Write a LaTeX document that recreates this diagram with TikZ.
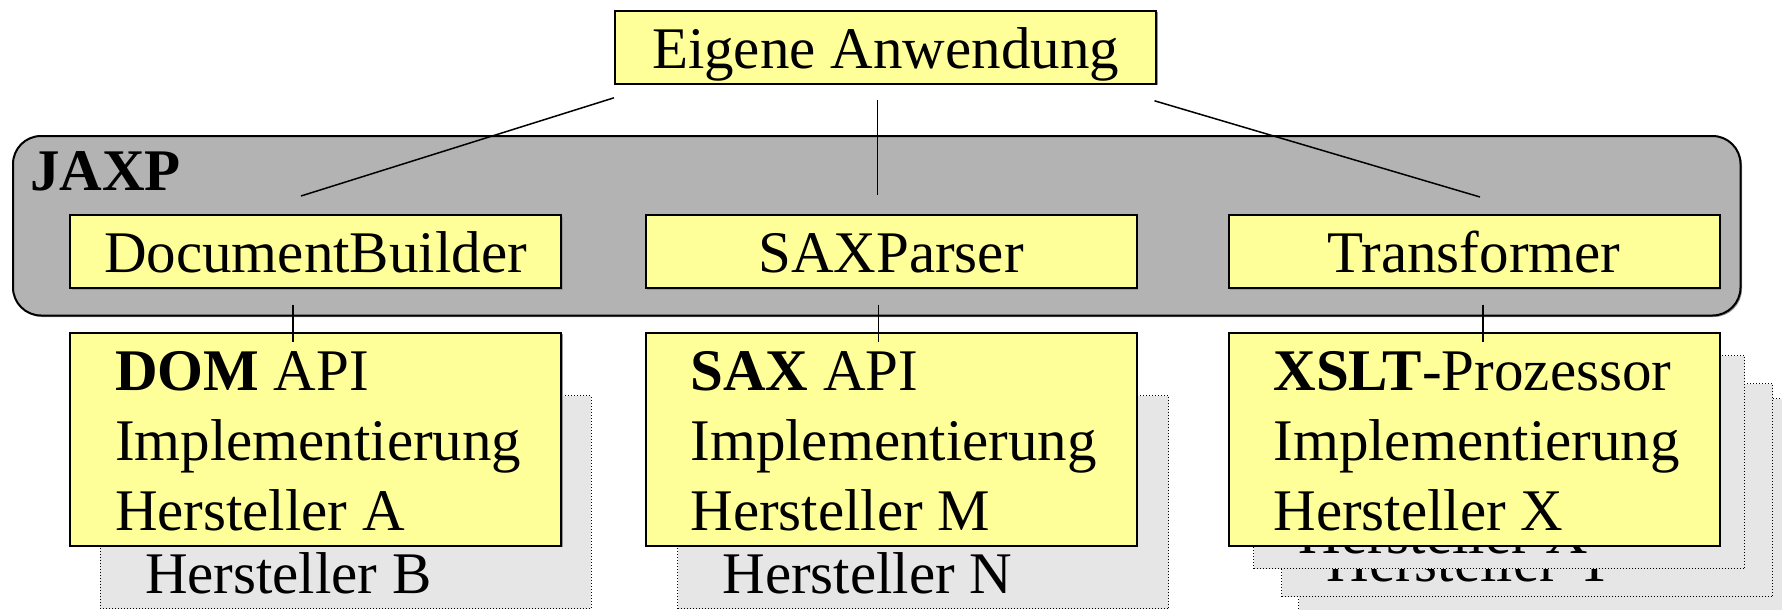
\documentclass[tikz,border=0pt]{standalone}
\usepackage{fontspec}
\setmainfont{Liberation Serif}
\usepackage{tikz}
\usetikzlibrary{calc, backgrounds, shadows}
\definecolor{boxyellow}{RGB}{255,255,153}
\definecolor{jaxpgray}{RGB}{179,179,179}
\definecolor{shadowgray}{RGB}{230,230,230}
\definecolor{edgegray}{RGB}{150,150,150}
\tikzstyle{edge shadow} = [drop shadow={shadow xshift=1.5pt, shadow yshift=-1.5pt, fill=edgegray, opacity=1}]
\tikzstyle{api} = [rectangle, draw, line width=2pt, fill=boxyellow, edge shadow,
    text centered, inner sep=0pt, minimum width=491pt, text height=57.5pt, text depth=15.5pt]
\tikzstyle{impl} = [rectangle, draw, line width=2pt, fill=boxyellow, edge shadow, align=flush left,
    inner xsep=45pt, inner ysep=0pt, text width=401pt, text height=57.5pt, text depth=155.5pt]
\tikzstyle{implshadow} = [rectangle, draw, line width=1pt, dotted, fill=shadowgray, align=flush left,
    inner xsep=45pt, inner ysep=0pt, text width=401pt, text height=57.5pt, text depth=155.5pt]
\tikzstyle{container} = [draw, line width=2pt, fill=jaxpgray, rounded corners=28pt, edge shadow]
\tikzstyle{line} = [draw, line width=1.5pt]

\begin{document}
\begin{tikzpicture}[x=1pt, y=-1pt, node distance=187.75pt, font=\fontsize{59}{70}\selectfont]
    \useasboundingbox (0,0) rectangle (1782,610);
    % Nodes
    \node [api, minimum width=541pt] (app) at (885.5,47.3) {Eigene Anwendung};
    \node [api] (builder) at (315.5,251.5) {DocumentBuilder};
    \node [api, right of=builder, node distance=575.5pt] (parser) {SAXParser};
    \node [api, right of=parser, node distance=583pt] (transformer) {Transformer};

    % Implementations
    \node [impl, below of=builder] (domimpl) {\textbf{DOM} API\\Implementierung\\Hersteller A};
    \node [impl, below of=parser] (saximpl) {\textbf{SAX} API\\Implementierung\\Hersteller M};
    \node [impl, below of=transformer] (xsltimpl) {\textbf{XSLT}-Prozessor\\Implementierung\\Hersteller X};

    % JAXP frame and stacked vendors
    \begin{scope}[on background layer]
        \draw [container] ($(builder.north west)+(-56,-78)$) rectangle ($(transformer.south east)+(20,26.5)$);
        \node [font=\fontsize{59}{70}\selectfont\bfseries, inner sep=0pt, anchor=base west]
            (jaxp) at ($(builder.north west)+(-39,-24)$) {JAXP};
        \node [implshadow] (domb) at ($(domimpl)+(30,63)$) {\mbox{}\\\mbox{}\\Hersteller B};
        \node [implshadow] (saxn) at ($(saximpl)+(32,63)$) {\mbox{}\\\mbox{}\\Hersteller N};
        \node [implshadow] (xsltz) at ($(xsltimpl)+(70,66)$) {};
        \node [implshadow] (xslty) at ($(xsltimpl)+(53,51)$) {\mbox{}\\\mbox{}\\Hersteller Y};
        \node [implshadow] (xsltx) at ($(xsltimpl)+(25,23)$) {\mbox{}\\\mbox{}\\Hersteller X};
    \end{scope}

    % Connections
    \draw [line] ($(app.south west)+(0,13)$) -- ($(builder.north)+(-14.5,-18)$);
    \draw [line] ($(app.south)+(-8,15)$) -- ($(parser.north)+(-13.5,-19)$);
    \draw [line] ($(app.south east)+(-2.5,16)$) -- ($(transformer.north)+(6,-17)$);
    \draw [line] ($(builder.south)+(-22.5,15.5)$) -- ($(domimpl.north)+(-22.5,10.5)$);
    \draw [line] ($(parser.south)+(-12.5,15.5)$) -- ($(saximpl.north)+(-12.5,10.5)$);
    \draw [line] ($(transformer.south)+(9,15.5)$) -- ($(xsltimpl.north)+(9,10.5)$);

\end{tikzpicture}
\end{document}
